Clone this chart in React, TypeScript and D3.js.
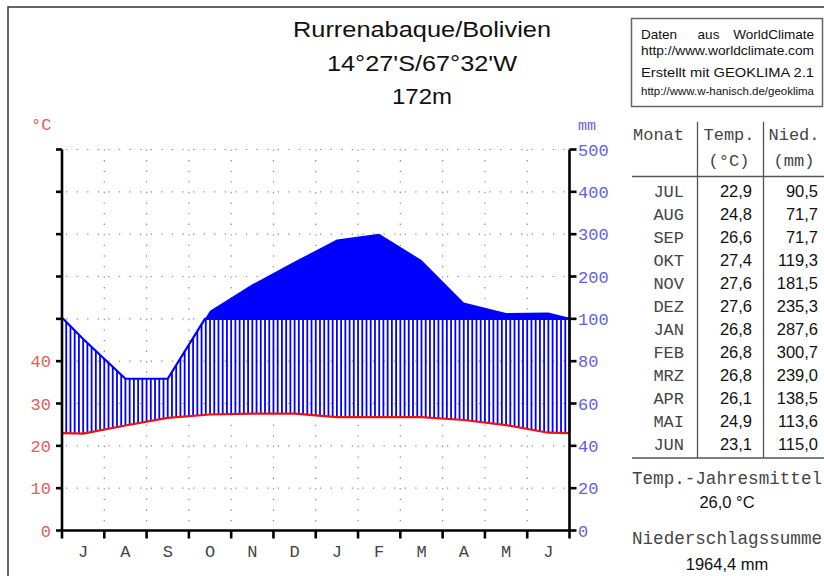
import React from 'react';
import * as d3 from 'd3';

const W = 824;
const H = 576;

const MONTHS = ['JUL', 'AUG', 'SEP', 'OKT', 'NOV', 'DEZ', 'JAN', 'FEB', 'MRZ', 'APR', 'MAI', 'JUN'];
const MONTH_LETTERS = ['J', 'A', 'S', 'O', 'N', 'D', 'J', 'F', 'M', 'A', 'M', 'J'];
const TEMPS = [22.9, 24.8, 26.6, 27.4, 27.6, 27.6, 26.8, 26.8, 26.8, 26.1, 24.9, 23.1];
const PRECIP = [90.5, 71.7, 71.7, 119.3, 181.5, 235.3, 287.6, 300.7, 239.0, 138.5, 113.6, 115.0];
const TEMP_TICKS = [0, 10, 20, 30, 40];
const PRECIP_TICKS = [0, 20, 40, 60, 80, 100, 200, 300, 400, 500];
const TITLE = ['Rurrenabaque/Bolivien', "14°27'S/67°32'W", '172m'];
const TITLE_LEN = [258, 190, 60];
const ANNUAL_MEAN = '26,0 °C';
const ANNUAL_SUM = '1964,4 mm';

const SANS = 'Liberation Sans, Arial, sans-serif';
const MONO = 'Liberation Mono, Courier New, monospace';
const RED = '#ee1111';
const BLUE = '#0000ff';
const RED_TXT = '#e85a5a';
const BLUE_TXT = '#6262dc';

const fmt = (v: number) => v.toFixed(1).replace('.', ',');

// plot box
const X0 = 62;
const X1 = 569.5;
const Y0 = 530.5;
const YTOP = 149.5;
const UNIT = (Y0 - YTOP) / 9;

// insert crossings with yLim and clamp each point with fn
function clampPts(pts: number[][], yLim: number, fn: (a: number, b: number) => number) {
  const out: number[][] = [];
  pts.forEach((p, i) => {
    if (i > 0) {
      const q = pts[i - 1];
      if (q[1] < yLim !== p[1] < yLim) {
        const t = (yLim - q[1]) / (p[1] - q[1]);
        out.push([q[0] + t * (p[0] - q[0]), yLim]);
      }
    }
    out.push([p[0], fn(p[1], yLim)]);
  });
  return out;
}

function interp(pts: number[][], xx: number) {
  for (let i = 1; i < pts.length; i++) {
    const a = pts[i - 1];
    const b = pts[i];
    if (xx <= b[0]) {
      if (b[0] === a[0]) return b[1];
      return a[1] + ((xx - a[0]) / (b[0] - a[0])) * (b[1] - a[1]);
    }
  }
  return pts[pts.length - 1][1];
}

export default function App() {
  const x = d3.scaleLinear().domain([0, 12]).range([X0, X1]);
  const yT = d3.scaleLinear().domain([0, 50]).range([Y0, Y0 - 5 * UNIT]);
  const yP = d3.scaleLinear().domain([0, 100, 500]).range([Y0, Y0 - 5 * UNIT, YTOP]);
  const y100 = yP(100);

  const edgeT = (TEMPS[11] + TEMPS[0]) / 2;
  const edgeP = (PRECIP[11] + PRECIP[0]) / 2;
  const xs = [0, ...MONTHS.map((_, i) => i + 0.5), 12];
  const tv = [edgeT, ...TEMPS, edgeT];
  const pv = [edgeP, ...PRECIP, edgeP];

  const tempPts = xs.map((m, i) => [x(m), yT(tv[i])]);
  const precipPts = xs.map((m, i) => [x(m), yP(pv[i])]);
  const lowerPts = clampPts(precipPts, y100, Math.max);
  const upperPts = clampPts(precipPts, y100, Math.min);

  const line = d3.line<number[]>().x((d) => d[0]).y((d) => d[1]);
  const area = d3
    .area<number[]>()
    .x((d) => d[0])
    .y0(y100)
    .y1((d) => d[1]);

  const hatch = d3.range(0, 121).map((k) => {
    const xx = x(k / 10);
    return { xx, ty: interp(tempPts, xx), py: interp(lowerPts, xx) };
  }).filter((h) => h.py < h.ty);

  const gridY = d3.range(1, 10).map((k) => Y0 - k * UNIT);
  const gridX = d3.range(1, 12).map((k) => x(k));
  const dash = `1.3 ${UNIT / 4 - 1.3}`;

  const rowY = (i: number) => 197 + i * 23;

  return (
    <svg width={W} height={H} style={{ position: 'absolute', left: 0, top: 0, background: '#fff' }}>
      <rect x={8} y={7} width={W + 50} height={H + 50} fill="#fff" stroke="#333" strokeWidth={1.5} />

      {/* title */}
      {TITLE.map((t, i) => (
        <text
          key={i}
          x={422 - TITLE_LEN[i] / 2}
          y={37 + i * 33.5}
          fontFamily={SANS}
          fontSize={22.5}
          fill="#111"
          textLength={TITLE_LEN[i]}
          lengthAdjust="spacingAndGlyphs"
        >
          {t}
        </text>
      ))}

      {/* grid */}
      <g stroke="#8a8a8a" strokeWidth={1.2} strokeDasharray={dash}>
        {gridY.map((gy, i) => (
          <line key={'h' + i} x1={X0 + 4} x2={X1} y1={gy} y2={gy} />
        ))}
        {gridX.map((gx, i) => (
          <line key={'v' + i} x1={gx} x2={gx} y1={YTOP} y2={Y0} />
        ))}
      </g>

      {/* precipitation above 100 mm */}
      <path d={area(upperPts) || ''} fill={BLUE} />

      {/* humid hatching */}
      <g stroke={BLUE} strokeWidth={1.8}>
        {hatch.map((h, i) => (
          <line key={i} x1={h.xx} x2={h.xx} y1={h.ty} y2={h.py} />
        ))}
      </g>
      <path d={line(lowerPts) || ''} fill="none" stroke={BLUE} strokeWidth={2.2} strokeLinejoin="round" />
      <path d={line(tempPts) || ''} fill="none" stroke={RED} strokeWidth={2.2} strokeLinejoin="round" />

      {/* axes */}
      <g stroke="#000" strokeWidth={2.6}>
        <line x1={X0} x2={X0} y1={YTOP} y2={Y0 + 8} />
        <line x1={X1} x2={X1} y1={YTOP} y2={Y0 + 8} />
        <line x1={X0} x2={X1} y1={Y0} y2={Y0} />
        {d3.range(0, 10).map((k) => (
          <line key={'lt' + k} x1={X0 - 6} x2={X0} y1={Y0 - k * UNIT} y2={Y0 - k * UNIT} />
        ))}
        {PRECIP_TICKS.map((p) => (
          <line key={'rt' + p} x1={X1} x2={X1 + 7} y1={yP(p)} y2={yP(p)} />
        ))}
        {d3.range(1, 12).map((k) => (
          <line key={'bt' + k} x1={x(k)} x2={x(k)} y1={Y0} y2={Y0 + 8} />
        ))}
      </g>

      {/* axis labels */}
      <g fontFamily={MONO} fontSize={17}>
        {TEMP_TICKS.map((t) => (
          <text key={'tl' + t} x={51} y={yT(t) + 6} textAnchor="end" fill={RED_TXT}>
            {t}
          </text>
        ))}
        {PRECIP_TICKS.map((p) => (
          <text key={'pl' + p} x={578} y={yP(p) + 6} fill={BLUE_TXT}>
            {p}
          </text>
        ))}
        {MONTH_LETTERS.map((m, i) => (
          <text key={'ml' + i} x={x(i + 0.5)} y={557} textAnchor="middle" fill="#444">
            {m}
          </text>
        ))}
        <text x={31} y={130} fill={RED_TXT}>°C</text>
        <text x={578} y={130} fill={BLUE_TXT} fontSize={15}>mm</text>
      </g>

      {/* info box */}
      <rect x={631.5} y={18.5} width={191} height={88} fill="#fff" stroke="#666" strokeWidth={1.5} />
      <g fontFamily={SANS} fill="#111">
        <text x={641} y={39} fontSize={13.5}>Daten</text>
        <text x={708.5} y={39} fontSize={13.5} textAnchor="middle">aus</text>
        <text x={814} y={39} fontSize={13.5} textAnchor="end">WorldClimate</text>
        <text x={641} y={55} fontSize={12} textLength={173} lengthAdjust="spacingAndGlyphs">http://www.worldclimate.com</text>
        <text x={641} y={77} fontSize={13.5} textLength={173} lengthAdjust="spacingAndGlyphs">Erstellt mit GEOKLIMA 2.1</text>
        <text x={641} y={95} fontSize={11.5} textLength={173} lengthAdjust="spacingAndGlyphs">http://www.w-hanisch.de/geoklima</text>
      </g>

      {/* table */}
      <g stroke="#555" strokeWidth={1.3}>
        <line x1={697.5} x2={697.5} y1={122} y2={458} />
        <line x1={763.5} x2={763.5} y1={122} y2={458} />
        <line x1={632} x2={W} y1={176.5} y2={176.5} />
        <line x1={632} x2={W} y1={458} y2={458} />
      </g>
      <g fontFamily={MONO} fontSize={17} fill="#444">
        <text x={684} y={140} textAnchor="end">Monat</text>
        <text x={729} y={140} textAnchor="middle">Temp.</text>
        <text x={729} y={166} textAnchor="middle">(°C)</text>
        <text x={794} y={140} textAnchor="middle">Nied.</text>
        <text x={794} y={166} textAnchor="middle">(mm)</text>
        {MONTHS.map((m, i) => (
          <text key={'tm' + i} x={684} y={rowY(i)} textAnchor="end">
            {m}
          </text>
        ))}
        <text x={727} y={484} textAnchor="middle" fontSize={17.6}>Temp.-Jahresmittel</text>
        <text x={727} y={544} textAnchor="middle" fontSize={17.6}>Niederschlagssumme</text>
      </g>
      <g fontFamily={SANS} fontSize={16.5} fill="#111">
        {TEMPS.map((t, i) => (
          <text key={'tt' + i} x={752} y={rowY(i)} textAnchor="end">
            {fmt(t)}
          </text>
        ))}
        {PRECIP.map((p, i) => (
          <text key={'tp' + i} x={818} y={rowY(i)} textAnchor="end">
            {fmt(p)}
          </text>
        ))}
        <text x={727} y={508} textAnchor="middle">{ANNUAL_MEAN}</text>
        <text x={727} y={570} textAnchor="middle">{ANNUAL_SUM}</text>
      </g>
    </svg>
  );
}
